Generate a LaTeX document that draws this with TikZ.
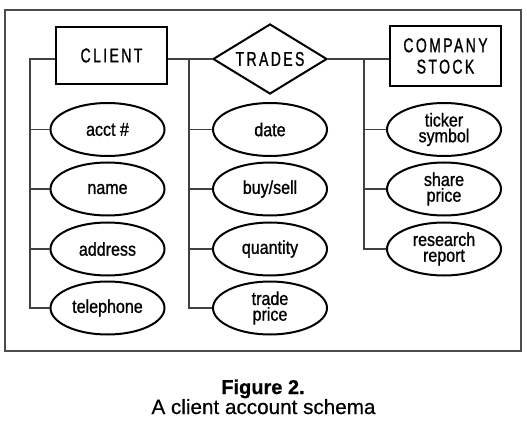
\documentclass[tikz,border=0pt]{standalone}
\usepackage{fontspec}
\setmainfont{Liberation Sans}[FakeStretch=0.86,FakeBold=1]
\newfontfamily\capsfont{Liberation Sans}[FakeStretch=0.7,LetterSpace=12,FakeBold=1]
\newfontfamily\captionfont{Liberation Sans}[FakeBold=0.6]
\usetikzlibrary{shapes.geometric}
\begin{document}
\begin{tikzpicture}[x=0.75pt,y=-0.75pt,
  attr/.style={ellipse,draw,line width=1.5pt,minimum width=85.5pt,minimum height=39.75pt,inner sep=0pt,align=center,font=\fontsize{14pt}{11.8pt}\selectfont},
  entity/.style={rectangle,draw,line width=2.1pt,minimum width=83.25pt,inner sep=0pt,align=center,font=\capsfont\fontsize{15pt}{17pt}\selectfont},
  rel/.style={diamond,draw,line width=1.5pt,minimum width=85.5pt,minimum height=52.5pt,aspect=1.63,inner sep=0pt,font=\capsfont\fontsize{15pt}{17pt}\selectfont},
  conn/.style={draw,line width=0.9pt,black!75}]
\useasboundingbox (0,0) rectangle (527,427);
\draw[line width=1.4pt,black!70] (5,10) rectangle (521,351);
% entities and relationship
\node[entity,minimum height=42.75pt] (client) at (111.5,55.5) {CLIENT};
\node[rel] (trades) at (270,59) {TRADES};
\node[entity,minimum height=45pt] (stock) at (445.5,56) {COMPANY\\[-1pt]STOCK};
% attributes
\node[attr] (acct) at (107.5,129.5) {acct \#};
\node[attr] (name) at (107.5,189) {name};
\node[attr] (addr) at (107.5,249) {address};
\node[attr] (tel) at (107.5,308) {telephone};
\node[attr] (date) at (270,129.5) {date};
\node[attr] (buy) at (270,189) {buy/sell};
\node[attr] (qty) at (270,249) {quantity};
\node[attr] (tprice) at (270,308) {trade\\price};
\node[attr] (ticker) at (444,129.5) {ticker\\symbol};
\node[attr] (sprice) at (444,189) {share\\price};
\node[attr] (report) at (444,249) {research\\report};
% trunks
\coordinate (lt) at (30,59);
\coordinate (mt) at (189,59);
\coordinate (rt) at (364,59);
\draw[conn] (lt -| client.west) -- (lt) -- (lt |- tel.west) -- (tel.west);
\draw[conn] (lt |- acct.west) -- (acct.west);
\draw[conn] (lt |- name.west) -- (name.west);
\draw[conn] (lt |- addr.west) -- (addr.west);
\draw[conn] (trades.west -| client.east) -- (trades.west);
\draw[conn] (mt) -- (mt |- tprice.west) -- (tprice.west);
\draw[conn] (mt |- date.west) -- (date.west);
\draw[conn] (mt |- buy.west) -- (buy.west);
\draw[conn] (mt |- qty.west) -- (qty.west);
\draw[conn] (trades.east) -- (trades.east -| stock.west);
\draw[conn] (rt) -- (rt |- report.west) -- (report.west);
\draw[conn] (rt |- ticker.west) -- (ticker.west);
\draw[conn] (rt |- sprice.west) -- (sprice.west);
% caption
\node[anchor=base,inner sep=0pt,font=\captionfont\bfseries\fontsize{15pt}{17pt}\selectfont] (fig) at (263,394) {Figure 2.};
\node[anchor=base,inner sep=0pt,font=\captionfont\fontsize{15.5pt}{17pt}\selectfont] (cap) at (263.5,414) {A client account schema};
\end{tikzpicture}
\end{document}
